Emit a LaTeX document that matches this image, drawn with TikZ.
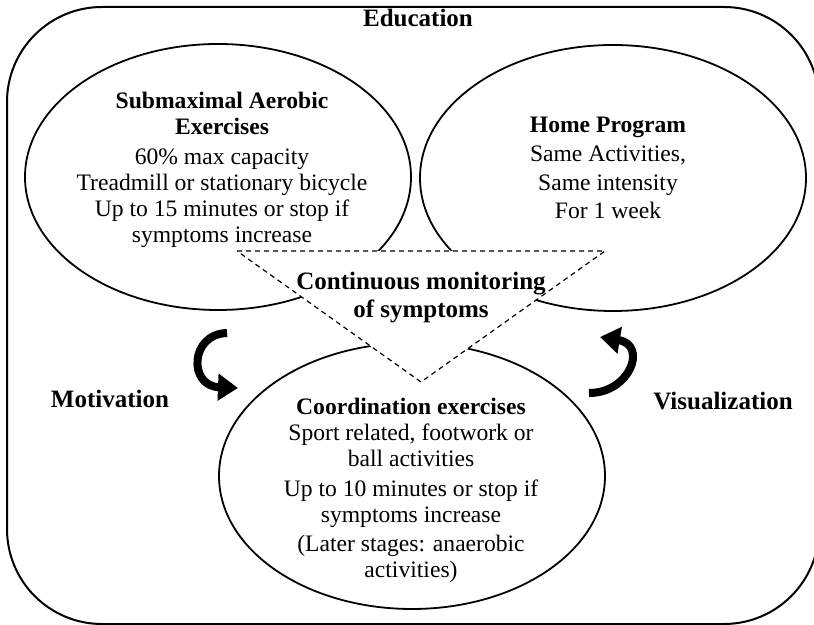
\documentclass[tikz,border=0pt]{standalone}
\usepackage{fontspec}
\setmainfont{Liberation Serif}
\usetikzlibrary{shapes.geometric,arrows.meta,positioning}

\begin{document}
\begin{tikzpicture}[x=0.5pt,y=-0.5pt,
	  every node/.style={align=center,inner sep=0pt,font=\fontsize{11.8}{13}\selectfont},
	  frame/.style={line width=1pt,rounded corners=47.5pt},
	  zone/.style={draw,line width=0.9pt,ellipse,fill=white,minimum width=193pt,minimum height=133pt},
	  monitor/.style={draw,fill=white,line width=0.6pt,dash pattern=on 2.5pt off 2pt},
	  label/.style={font=\fontsize{12.5}{14}\selectfont\bfseries},
	  turn/.style={line width=4pt,-{Triangle[length=10pt,width=13pt]}}]

	  \useasboundingbox (0,0) rectangle (814,625);

	  % Outer box and the three stages
	  \draw[frame] (7,7) rectangle (819,624);
	  \node[zone] (aerobic) at (218,177) {};
	  \node[zone] (home) at (613,178) {};
	  \node[zone] (coord) at (412,476) {};

	  % Triangle over the middle
	  \coordinate (tl) at (237,251);
	  \coordinate (tr) at (605,251);
	  \coordinate (tb) at (421,382);
	  \draw[monitor] (tl) -- (tr) -- (tb) -- cycle;

	  \node (aerobictext) at (222,170) {\textbf{Submaximal Aerobic}\\\textbf{Exercises}\\[2pt]60\% max capacity\\Treadmill or stationary bicycle\\Up to 15 minutes or stop if\\symptoms increase};
	  \node (hometext) at (608,168) {\textbf{Home Program}\\[1.5pt]Same Activities,\\[1.5pt]Same intensity\\[1pt]For 1 week};
	  \node (coordtext) at (411,490) {\textbf{Coordination exercises}\\Sport related, footwork or\\ball activities\\[2pt]Up to 10 minutes or stop if\\symptoms increase\\[1.5pt](Later stages: anaerobic\\activities)};
	  \node[label] (monitortext) at (421,298) {Continuous monitoring\\of symptoms};

	  \node[label] (education) at (418,18) {Education};
	  \node[label] (motivation) at (110,399) {Motivation};
	  \node[label] (visualization) at (723,401) {Visualization};

	  % Curved arrows
	  \coordinate (m1) at (227,333);
	  \coordinate (m2) at (238,388);
	  \coordinate (v1) at (589,393);
	  \coordinate (v2) at (600,337);
	  \draw[turn] (m1) .. controls (190,334) and (188,386) .. (m2);
	  \draw[turn] (v1) .. controls (630,393) and (648,345) .. (v2);
\end{tikzpicture}
\end{document}
